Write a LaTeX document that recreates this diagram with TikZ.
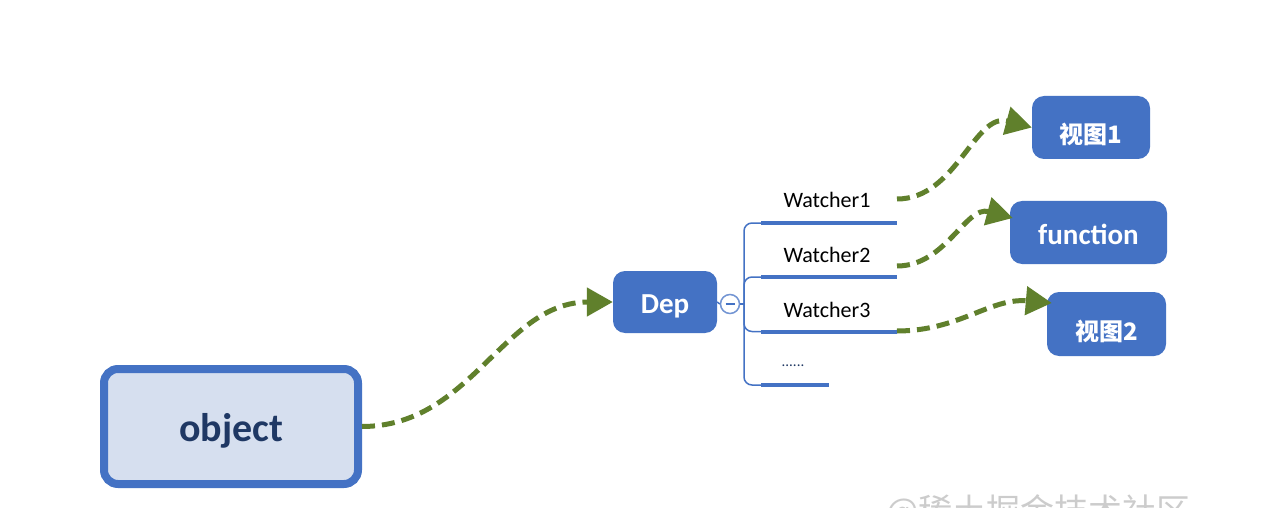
\documentclass[tikz,border=0pt]{standalone}
\usepackage{fontspec}
\setmainfont{Carlito}
\newfontfamily\cjk{Noto Sans CJK SC}
\usetikzlibrary{arrows.meta,calc}
\definecolor{nodeblue}{RGB}{68,114,196}
\definecolor{objfill}{RGB}{214,223,239}
\definecolor{objtext}{RGB}{31,56,100}
\definecolor{arrgreen}{RGB}{96,128,44}
\tikzset{
  bluebox/.style={fill=nodeblue, rounded corners=12pt, text=white, inner sep=0pt, text depth=1pt},
  latinbox/.style={bluebox, font=\bfseries\fontsize{29}{34}\selectfont, text height=25pt},
  cjkbox/.style={bluebox, font=\cjk\bfseries\fontsize{24}{30}\selectfont, text height=34pt},
  flow/.style={draw=arrgreen, line width=5pt, dash pattern=on 13pt off 7pt, -{Triangle[length=26pt,width=28pt]}},
  under/.style={draw=nodeblue, line width=4pt},
  branch/.style={draw=nodeblue, line width=1.5pt, rounded corners=8pt},
  wtext/.style={font=\fontsize{22}{26}\selectfont, text=black, inner sep=0pt},
}
\begin{document}
\begin{tikzpicture}[x=1pt,y=-1pt]
\path[use as bounding box, fill=white] (0,0) rectangle (1270,508);
% nodes
\node[draw=nodeblue, line width=8pt, fill=objfill, rounded corners=14pt, minimum width=254pt, minimum height=115pt, inner sep=0pt, text=objtext, font=\bfseries\fontsize{40}{48}\selectfont, text height=30pt, text depth=1pt] (obj) at (231,426.5) {object};
\node[latinbox, minimum width=104pt, minimum height=62pt, text height=23.5pt] (dep) at (665,302) {Dep};
\node[cjkbox, minimum width=118pt, minimum height=63pt] (v1) at (1091,127.5) {视图1};
\node[latinbox, minimum width=157pt, minimum height=63pt] (fn) at (1088.5,232.5) {function};
\node[cjkbox, minimum width=119pt, minimum height=64pt] (v2) at (1106.5,324) {视图2};
% collapse circle
\node[circle, draw=nodeblue!75, line width=1.5pt, fill=white, minimum size=19pt, inner sep=0pt,
  path picture={\draw[nodeblue, line width=1.3pt] ($(path picture bounding box.center)+(-4.5,0)$) -- ++(9,0);}] (col) at (730,304) {};
\coordinate (jn) at (744,304);
% underline ends
\coordinate (u1s) at (761,223); \coordinate (u1e) at (897,223);
\coordinate (u2s) at (761,277); \coordinate (u2e) at (897,277);
\coordinate (u3s) at (761,331.5); \coordinate (u3e) at (897,331.5);
\coordinate (u4s) at (761,385); \coordinate (u4e) at (829,385);
% branches
\draw[branch] (dep.east) -- (col.west);
\draw[branch] (col.east) -- (jn);
\draw[branch] (jn) |- (u1s);
\draw[branch] (jn) |- (u2s);
\draw[branch] (jn) |- (u3s);
\draw[branch] (jn) |- (u4s);
\draw[under] (u1s) -- (u1e);
\draw[under] (u2s) -- (u2e);
\draw[under] (u3s) -- (u3e);
\draw[under] (u4s) -- (u4e);
% watcher labels
\node[wtext] (w1) at (827,200) {Watcher1};
\node[wtext] (w2) at (827,255) {Watcher2};
\node[wtext] (w3) at (827,310) {Watcher3};
\node[wtext, font=\fontsize{15}{18}\selectfont, text=objtext] (w4) at (793,366) {......};
% arrows
\coordinate (s1) at (897,199);
\coordinate (s2) at (897,266);
\coordinate (s3) at (897,331);
\coordinate (e2) at ($(fn.west)+(3,-14.5)$);
\coordinate (e3) at ($(v2.west)+(5,-21)$);
\draw[flow] (obj.east) to[out=0,in=180] (dep.west);
\draw[flow] (s1) to[out=0,in=165] (v1.west);
\draw[flow] (s2) to[out=0,in=165] (e2);
\draw[flow] (s3) to[out=0,in=175] (e3);
% watermark (cut off by the lower edge, as in the reference)
\begin{scope}
\clip (0,0) rectangle (1270,508);
\node[anchor=base west, text=gray!40, font=\cjk\fontsize{34}{40}\selectfont, inner sep=0pt] (wm) at (886,523) {@稀土掘金技术社区};
\end{scope}
\end{tikzpicture}
\end{document}
